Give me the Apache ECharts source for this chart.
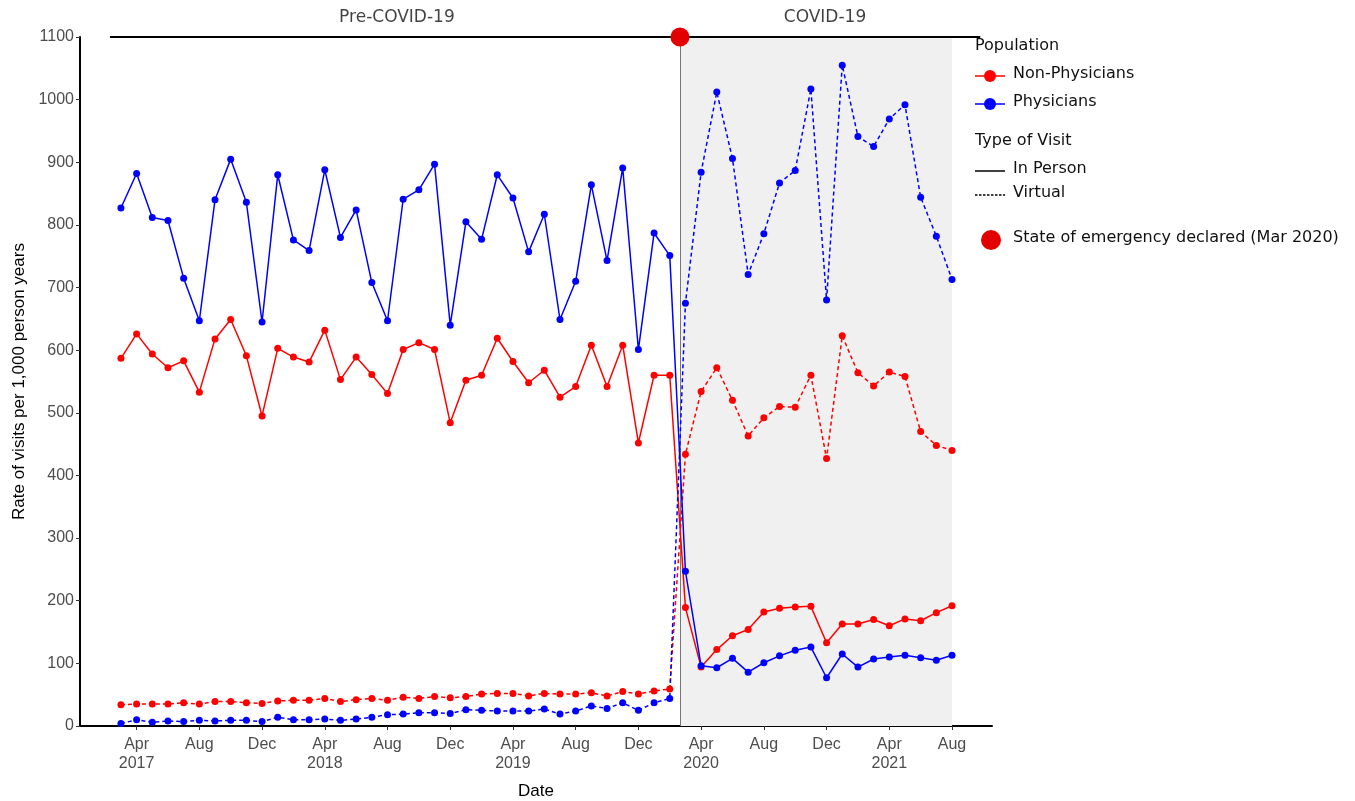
<!DOCTYPE html>
<html>
<head>
<meta charset="utf-8">
<script src="https://cdn.jsdelivr.net/npm/echarts@6/dist/echarts.min.js"></script>
<style>
  html, body { margin: 0; padding: 0; background: #fff; }
  #chart { width: 1355px; height: 801px; }
</style>
</head>
<body>
<div id="chart"></div>
<script>
// Months run from Mar 2017 to Aug 2021 ; x value = months since Jan 2017
let firstMonth = 2;
let monthNames = ['Jan', 'Feb', 'Mar', 'Apr', 'May', 'Jun', 'Jul', 'Aug', 'Sep', 'Oct', 'Nov', 'Dec'];
let tickMonths = [3, 7, 11, 15, 19, 23, 27, 31, 35, 39, 43, 47, 51, 55];

let nonPhysInPerson = [587, 626, 594, 572, 583, 533, 618, 649, 591, 495, 603, 589, 581, 632, 553, 589, 561, 531,
  601, 612, 601, 484, 552, 560, 619, 582, 548, 568, 525, 542, 608, 542, 608, 452, 560, 560,
  189, 94, 122, 144, 154, 182, 188, 190, 191, 133, 163, 163, 170, 160, 171, 168, 181, 192];
let nonPhysVirtual = [34, 35, 35, 35, 37, 35, 39, 39, 37, 36, 40, 41, 41, 44, 39, 42, 44, 41,
  46, 44, 47, 45, 47, 51, 52, 52, 48, 52, 51, 51, 53, 48, 55, 51, 56, 59,
  434, 534, 572, 520, 463, 492, 510, 509, 560, 427, 623, 564, 543, 565, 558, 470, 448, 440];
let physInPerson = [827, 882, 812, 807, 715, 647, 840, 905, 836, 645, 880, 776, 759, 888, 780, 824, 708, 647,
  841, 856, 897, 640, 805, 777, 880, 843, 757, 817, 649, 710, 864, 743, 891, 601, 787, 751,
  247, 96, 93, 108, 86, 101, 112, 121, 126, 77, 115, 94, 107, 110, 113, 109, 105, 113];
let physVirtual = [4, 10, 6, 8, 7, 9, 8, 9, 9, 7, 14, 10, 10, 11, 9, 11, 14, 18,
  19, 21, 21, 20, 26, 25, 24, 24, 24, 27, 19, 24, 32, 28, 37, 25, 37, 44,
  675, 884, 1012, 906, 721, 786, 867, 887, 1017, 680, 1055, 941, 925, 969, 992, 844, 782, 713];

// period bar on top : start, emergency, end (x) and label centres
let periodBar = [1.3, 37.65, 56.8];
let periodLabels = ['Pre-COVID-19', 'COVID-19'];
let periodLabelX = [19.6, 46.9];
let shadeEnd = 55;
let topValue = 1100;

let red = '#ff0000';
let blue = '#0000ff';
let axisFont = 'Liberation Sans, Arial, sans-serif';
let legendFont = 'DejaVu Sans, Verdana, sans-serif';

function toPoints(values) {
  'use strict';
  return values.map(function (v, i) {
    return [firstMonth + i, v];
  });
}

function lineSeries(name, values, color, dashed) {
  'use strict';
  return {
    name: name,
    type: 'line',
    data: toPoints(values),
    symbol: 'circle',
    symbolSize: 7,
    showSymbol: true,
    itemStyle: {color: color},
    lineStyle: {color: color, width: 1.5, type: dashed ? [4, 3] : 'solid'},
    z: 5,
    animation: false
  };
}

// =====================================================================================================================
let chart = echarts.init(document.getElementById('chart'));
let option = {
  backgroundColor: '#fff',
  animation: false,
  grid: {left: 80, right: 363, top: 37, bottom: 75, containLabel: false, outerBoundsMode: 'none'},
  xAxis: {
    type: 'value',
    min: -0.61,
    max: 57.55,
    name: 'Date',
    nameLocation: 'middle',
    nameGap: 57,
    nameTextStyle: {fontFamily: axisFont, fontSize: 17, color: '#000'},
    splitLine: {show: false},
    axisLine: {show: true, onZero: false, lineStyle: {color: '#000', width: 2}},
    axisTick: {show: true, length: 4, customValues: tickMonths, lineStyle: {color: '#333'}},
    axisLabel: {
      customValues: tickMonths,
      fontFamily: axisFont,
      fontSize: 16,
      color: '#4d4d4d',
      lineHeight: 19,
      margin: 9,
      formatter: function (v) {
        let m = Math.round(v);
        let name = monthNames[m % 12];
        if (m % 12 === 3) {
          return name + '\n' + (2017 + Math.floor(m / 12));
        }
        return name;
      }
    }
  },
  yAxis: {
    type: 'value',
    min: 0,
    max: 1100,
    interval: 100,
    name: 'Rate of visits per 1,000 person years',
    nameLocation: 'middle',
    nameGap: 52,
    nameTextStyle: {fontFamily: axisFont, fontSize: 17, color: '#000'},
    splitLine: {show: false},
    axisLine: {show: true, onZero: false, lineStyle: {color: '#000', width: 2}},
    axisTick: {show: true, length: 4, lineStyle: {color: '#333'}},
    axisLabel: {
      fontFamily: axisFont,
      fontSize: 16,
      color: '#4d4d4d',
      margin: 6,
      formatter: function (v) {
        return String(v);
      }
    }
  },
  series: [
    // shaded COVID period + separator line
    {
      name: 'shade',
      type: 'line',
      data: [],
      silent: true,
      markArea: {
        silent: true,
        itemStyle: {color: '#f0f0f0'},
        data: [[{xAxis: periodBar[1], yAxis: 0}, {xAxis: shadeEnd, yAxis: topValue}]]
      },
      markLine: {
        silent: true,
        symbol: 'none',
        label: {show: false},
        lineStyle: {color: '#777', width: 1, type: 'solid'},
        data: [[{coord: [periodBar[1], 0]}, {coord: [periodBar[1], topValue]}]]
      },
      z: 1
    },
    lineSeries('Non-Physicians In Person', nonPhysInPerson, red, false),
    lineSeries('Non-Physicians Virtual', nonPhysVirtual, red, true),
    lineSeries('Physicians In Person', physInPerson, blue, false),
    lineSeries('Physicians Virtual', physVirtual, blue, true),
    // period bar along the top
    {
      name: 'period',
      type: 'line',
      data: [[periodBar[0], topValue], [periodBar[2], topValue]],
      symbol: 'none',
      silent: true,
      clip: false,
      lineStyle: {color: '#000', width: 2},
      z: 6
    },
    {
      name: 'periodLabels',
      type: 'scatter',
      data: periodLabelX.map(function (x, i) {
        return {value: [x, topValue], name: periodLabels[i]};
      }),
      symbolSize: 0,
      silent: true,
      clip: false,
      label: {
        show: true,
        position: 'top',
        distance: 11,
        formatter: '{b}',
        fontFamily: legendFont,
        fontSize: 17,
        color: '#111'
      },
      z: 6
    },
    {
      name: 'State of emergency',
      type: 'scatter',
      data: [[periodBar[1], topValue]],
      symbol: 'circle',
      symbolSize: 19,
      silent: true,
      clip: false,
      itemStyle: {color: '#e30000', opacity: 1},
      z: 10
    }
  ],
  graphic: [
    {type: 'text', left: 975, top: 38, style: {text: 'Population', font: '16px ' + legendFont, fill: '#111'}},
    {type: 'line', shape: {x1: 975, y1: 76, x2: 1005, y2: 76}, style: {stroke: red, lineWidth: 1.5}},
    {type: 'circle', shape: {cx: 990, cy: 76, r: 6}, style: {fill: red}},
    {type: 'text', left: 1013, top: 66, style: {text: 'Non-Physicians', font: '16px ' + legendFont, fill: '#111'}},
    {type: 'line', shape: {x1: 975, y1: 104, x2: 1005, y2: 104}, style: {stroke: blue, lineWidth: 1.5}},
    {type: 'circle', shape: {cx: 990, cy: 104, r: 6}, style: {fill: blue}},
    {type: 'text', left: 1013, top: 94, style: {text: 'Physicians', font: '16px ' + legendFont, fill: '#111'}},
    {type: 'text', left: 975, top: 133, style: {text: 'Type of Visit', font: '16px ' + legendFont, fill: '#111'}},
    {type: 'line', shape: {x1: 975, y1: 171, x2: 1005, y2: 171}, style: {stroke: '#000', lineWidth: 1.5}},
    {type: 'text', left: 1013, top: 161, style: {text: 'In Person', font: '16px ' + legendFont, fill: '#111'}},
    {type: 'line', shape: {x1: 975, y1: 195, x2: 1005, y2: 195}, style: {stroke: '#000', lineWidth: 1.5, lineDash: [2.5, 1.5]}},
    {type: 'text', left: 1013, top: 185, style: {text: 'Virtual', font: '16px ' + legendFont, fill: '#111'}},
    {type: 'circle', shape: {cx: 991, cy: 240, r: 10}, style: {fill: '#e30000'}},
    {type: 'text', left: 1013, top: 230, style: {text: 'State of emergency declared (Mar 2020)', font: '16px ' + legendFont, fill: '#111'}}
  ]
};
option && chart.setOption(option);
</script>
</body>
</html>
